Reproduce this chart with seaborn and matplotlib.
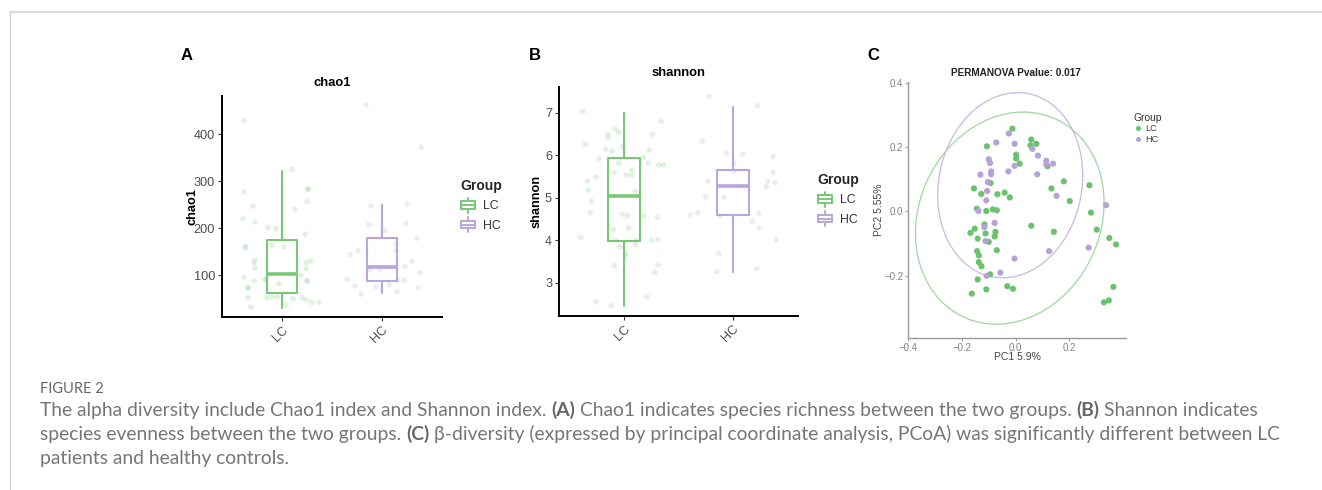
import numpy as np
import pandas as pd
import matplotlib
matplotlib.use("Agg")
import matplotlib.pyplot as plt
import seaborn as sns
from matplotlib.legend_handler import HandlerBase
from matplotlib.patches import Rectangle, Patch
from matplotlib.lines import Line2D

# ---------------- data ----------------
groups = ["LC", "HC"]

# Panel A: chao1 (values and horizontal jitter offsets)
lc_chao1 = [428, 277, 247, 220, 213, 161, 159, 95, 132, 126, 115, 74, 88, 72, 52, 32, 201, 199,
            164, 160, 92, 89, 82, 52, 54, 54, 36, 325, 240, 284, 282, 257, 187, 130, 126, 114,
            89, 87, 50, 52, 48, 42, 42, 100]
lc_chao1_jit = [-0.38, -0.38, -0.29, -0.39, -0.27, -0.37, -0.36, -0.38, -0.27, -0.28, -0.27, -0.34,
                -0.28, -0.34, -0.34, -0.31, -0.14, -0.06, -0.10, 0.02, -0.17, -0.16, -0.03, -0.15,
                -0.10, -0.05, 0.04, 0.10, 0.13, 0.26, 0.26, 0.25, 0.23, 0.29, 0.24, 0.24, 0.25,
                0.25, 0.11, 0.20, 0.24, 0.30, 0.37, 0.19]
hc_chao1 = [462, 372, 247, 251, 208, 210, 194, 179, 152, 144, 152, 167, 130, 119, 112, 112, 91,
            77, 75, 89, 105, 73, 65, 60, 79, 89]
hc_chao1_jit = [-0.16, 0.39, -0.11, 0.25, -0.13, 0.24, 0.03, 0.35, -0.24, -0.32, 0.14, 0.14, 0.30,
                0.23, -0.12, -0.02, -0.35, -0.27, -0.06, 0.22, 0.38, 0.36, 0.15, -0.21, 0.07, 0.16]
# box statistics (whisker low, Q1, median, Q3, whisker high)
chao1_box = {"LC": [30, 62, 102, 175, 322], "HC": [62, 88, 118, 178, 250]}

# Panel B: shannon
lc_shan = [7.02, 6.25, 6.49, 6.41, 6.61, 6.53, 6.14, 6.10, 6.20, 5.91, 5.39, 5.48, 5.18, 4.91,
           4.65, 4.07, 5.59, 5.81, 5.53, 5.65, 5.53, 5.16, 4.61, 4.58, 4.28, 4.25, 4.00, 3.85,
           3.69, 3.63, 3.40, 4.00, 3.90, 2.55, 2.46, 2.67, 3.25, 3.42, 4.00, 4.02, 4.54, 4.58,
           5.81, 6.12, 6.48, 6.80, 5.77, 5.77, 5.95]
lc_shan_jit = [-0.38, -0.36, -0.15, -0.15, -0.08, -0.05, -0.17, -0.11, -0.01, -0.23, -0.34, -0.26,
               -0.33, -0.30, -0.31, -0.40, -0.09, -0.05, 0.02, 0.07, 0.07, 0.10, -0.02, 0.03, 0.04,
               -0.10, -0.08, -0.04, 0.01, 0.01, -0.09, 0.11, 0.10, -0.26, -0.12, 0.21, 0.28, 0.31,
               0.25, 0.31, 0.31, 0.18, 0.22, 0.23, 0.26, 0.34, 0.32, 0.36, 0.18]
hc_shan = [7.38, 7.16, 6.33, 6.04, 6.02, 5.81, 5.39, 5.96, 5.38, 5.59, 5.35, 5.26, 5.02, 5.01,
           4.59, 4.65, 4.57, 4.44, 4.63, 4.29, 4.02, 3.69, 3.26, 3.33, 5.63]
hc_shan_jit = [-0.22, 0.23, -0.28, -0.06, 0.09, 0.01, -0.23, 0.37, 0.32, 0.37, 0.39, 0.31, -0.25,
               -0.08, -0.39, -0.32, -0.12, 0.18, 0.24, 0.24, 0.40, -0.13, -0.15, 0.22, 0.01]
shan_box = {"LC": [2.46, 3.99, 5.04, 5.93, 7.00], "HC": [3.26, 4.59, 5.28, 5.65, 7.14]}

# Panel C: PCoA
lc_pc1 = [-0.012, 0.058, 0.077, 0.055, -0.107, 0.002, 0.002, 0.015, 0.118, 0.179, 0.274, -0.155,
          -0.093, 0.133, -0.128, -0.068, -0.041, -0.022, 0.201, -0.144, -0.109, -0.085, -0.070,
          0.280, 0.058, -0.116, -0.152, -0.168, -0.112, -0.075, -0.078, 0.142, 0.301, -0.141,
          -0.100, 0.348, 0.373, -0.143, -0.070, -0.137, -0.137, -0.127, -0.095, -0.141, -0.031,
          -0.010, -0.109, -0.163, 0.363, 0.346, 0.328]
lc_pc2 = [0.257, 0.223, 0.210, 0.205, 0.202, 0.176, 0.164, 0.148, 0.140, 0.093, 0.081, 0.071,
          0.088, 0.071, 0.054, 0.053, 0.058, 0.043, 0.032, 0.008, 0.001, 0.006, 0.003, -0.004,
          -0.045, -0.041, -0.054, -0.067, -0.069, -0.064, -0.078, -0.064, -0.057, -0.085, -0.095,
          -0.083, -0.103, -0.124, -0.121, -0.137, -0.158, -0.171, -0.196, -0.212, -0.233, -0.241,
          -0.243, -0.256, -0.235, -0.277, -0.283]
hc_pc1 = [-0.025, -0.072, -0.004, 0.062, 0.083, -0.100, -0.095, -0.091, -0.091, -0.131, -0.027,
          -0.004, 0.114, 0.114, 0.139, 0.080, -0.103, -0.106, -0.109, 0.152, -0.138, -0.078,
          -0.116, -0.112, 0.336, 0.271, 0.124, -0.004, -0.057, -0.108]
hc_pc2 = [0.242, 0.214, 0.210, 0.194, 0.173, 0.162, 0.150, 0.124, 0.115, 0.114, 0.124, 0.141,
          0.157, 0.146, 0.148, 0.115, 0.091, 0.063, 0.034, 0.048, 0.001, -0.036, -0.049, -0.093,
          0.019, -0.113, -0.124, -0.147, -0.191, -0.201]

# ---------------- style ----------------
sns.set_style("white")
plt.rcParams["font.family"] = ["Liberation Sans", "DejaVu Sans"]
CAPFONT = ["Lato", "DejaVu Sans"]

LC_COL = "#78c878"
HC_COL = "#b9a6da"
LC_PT = "#6cc26c"
HC_PT = "#b7a2d8"
PAL = {"LC": LC_COL, "HC": HC_COL}

W, H = 1322, 490
fig = plt.figure(figsize=(W / 100, H / 100), dpi=100)


def fig_rect(l, t, r, b):
    return [l / W, 1 - b / H, (r - l) / W, (b - t) / H]


def fx(px):
    return px / W


def fy(py):
    return 1 - py / H


class BoxKey(HandlerBase):
    def create_artists(self, legend, orig, xd, yd, w, h, fs, trans):
        c = orig.get_edgecolor()
        x0, y0 = -xd, -yd
        bw = w * 0.85
        bx = x0 + (w - bw) / 2
        b0, b1 = y0 + h * 0.15, y0 + h * 0.85
        cx = x0 + w / 2
        arts = [
            Rectangle((bx, b0), bw, b1 - b0, fill=False, ec=c, lw=1.4, transform=trans),
            Line2D([cx, cx], [y0 - 1.5, b0], color=c, lw=1.4, transform=trans),
            Line2D([cx, cx], [b1, y0 + h + 1.5], color=c, lw=1.4, transform=trans),
            Line2D([bx, bx + bw], [y0 + h / 2] * 2, color=c, lw=1.4, transform=trans),
        ]
        return arts


def alpha_panel(rect, lc_v, lc_j, hc_v, hc_j, box, ylim, yticks, title, title_xy, ylab_x,
                leg_xy):
    ax = fig.add_axes(fig_rect(*rect))
    df = pd.DataFrame({
        "x": np.concatenate([0 + np.array(lc_j), 1 + np.array(hc_j)]),
        "y": np.concatenate([lc_v, hc_v]),
        "Group": ["LC"] * len(lc_v) + ["HC"] * len(hc_v),
    })
    sns.scatterplot(data=df, x="x", y="y", hue="Group", palette=PAL, alpha=0.22, s=16,
                    linewidth=0, legend=False, ax=ax, zorder=1)
    for i, g in enumerate(groups):
        lo, q1, med, q3, hi = box[g]
        st = [dict(whislo=lo, q1=q1, med=med, q3=q3, whishi=hi, fliers=[])]
        c = PAL[g]
        ax.bxp(st, positions=[i], widths=0.3, showfliers=False, showcaps=False,
               boxprops=dict(color=c, lw=1.5), whiskerprops=dict(color=c, lw=1.5),
               medianprops=dict(color=c, lw=2.6), manage_ticks=False, zorder=3)
    ax.set_xlim(-0.6, 1.6)
    ax.set_ylim(*ylim)
    ax.set_yticks(yticks)
    ax.set_xticks([0, 1])
    ax.set_xticklabels(groups, rotation=45, ha="right", va="top", rotation_mode="anchor")
    ax.set_xlabel("")
    ax.set_ylabel("")
    for s in ["top", "right"]:
        ax.spines[s].set_visible(False)
    for s in ["left", "bottom"]:
        ax.spines[s].set_color("black")
        ax.spines[s].set_linewidth(1.4)
    ax.tick_params(axis="both", direction="out", length=3, width=0.8, color="#333333",
                   labelsize=9.2, labelcolor="#4d4d4d", pad=2, left=True, bottom=True)
    fig.text(fx(title_xy[0]), fy(title_xy[1]), title, ha="center", va="center",
             fontsize=9.4, fontweight="bold", color="black")
    fig.text(fx(ylab_x), fy((rect[1] + rect[3]) / 2), title, ha="center", va="center",
             rotation=90, fontsize=9.2, fontweight="bold", color="black")
    handles = [Patch(facecolor="none", edgecolor=PAL[g]) for g in groups]
    leg = fig.legend(handles, groups, title="Group", handler_map={Patch: BoxKey()},
                     loc="upper left", bbox_to_anchor=(fx(leg_xy[0]), fy(leg_xy[1])),
                     frameon=False, fontsize=8.8, title_fontproperties={"weight": "bold", "size": 10},
                     alignment="left", handlelength=1.3, handleheight=1.0, labelspacing=0.55,
                     handletextpad=0.6, borderpad=0, borderaxespad=0)
    for t in leg.get_texts():
        t.set_color("#333333")
    return ax


axA = alpha_panel((222, 96, 442, 317), lc_chao1, lc_chao1_jit, hc_chao1, hc_chao1_jit,
                  chao1_box, (11, 481), [100, 200, 300, 400], "chao1", (332, 83), 192,
                  (460, 179))
axB = alpha_panel((559, 87, 798, 316), lc_shan, lc_shan_jit, hc_shan, hc_shan_jit,
                  shan_box, (2.22, 7.6), [3, 4, 5, 6, 7], "shannon", (678, 73), 537,
                  (817, 173))

# ---------------- Panel C ----------------
axC = fig.add_axes(fig_rect(908, 82, 1126, 338))
dfc = pd.DataFrame({
    "PC1": lc_pc1 + hc_pc1,
    "PC2": lc_pc2 + hc_pc2,
    "Group": ["LC"] * len(lc_pc1) + ["HC"] * len(hc_pc1),
})


def cov_trob(X, nu=5, maxit=25, tol=0.01):
    """Multivariate-t robust location / scatter (as MASS::cov.trob)."""
    n, p = X.shape
    wt = np.ones(n)
    loc = X.mean(axis=0)
    w = np.sqrt(wt)
    for _ in range(maxit):
        w0 = w
        Xc = X - loc
        _, d, vt = np.linalg.svd(np.sqrt(w / w.sum())[:, None] * Xc, full_matrices=False)
        wX = Xc @ vt.T @ np.diag(1 / d)
        Q = (wX ** 2).sum(axis=1)
        w = (wt * (nu + p)) / (nu + Q)
        loc = (w[:, None] * X).sum(axis=0) / w.sum()
        if np.all(np.abs(w - w0) < tol):
            break
    Xc = X - loc
    cov = (np.sqrt(w)[:, None] * Xc).T @ (np.sqrt(w)[:, None] * Xc) / wt.sum()
    return loc, cov


def ellipse_pts(x, y, level=0.95, n=240):
    X = np.column_stack([x, y]).astype(float)
    d = len(X) - 1
    fq = d / 2 * ((1 - level) ** (-2 / d) - 1)  # F(2, d) quantile, closed form
    r = np.sqrt(2 * fq)
    loc, cov = cov_trob(X)
    R = np.linalg.cholesky(cov).T  # upper triangular, like R's chol()
    t = np.linspace(0, 2 * np.pi, n)
    circ = np.column_stack([np.cos(t), np.sin(t)])
    p = loc + r * (circ @ R)
    return p[:, 0], p[:, 1]


ell_cols = {"LC": "#9fd89f", "HC": "#c6b9e4"}
for g, (gx, gy) in {"LC": (lc_pc1, lc_pc2), "HC": (hc_pc1, hc_pc2)}.items():
    ex, ey = ellipse_pts(gx, gy)
    axC.plot(ex, ey, color=ell_cols[g], lw=0.9, zorder=1)

sns.scatterplot(data=dfc, x="PC1", y="PC2", hue="Group", palette={"LC": LC_PT, "HC": HC_PT},
                s=20, linewidth=0, legend=False, ax=axC, zorder=3)
axC.set_xlim(-0.4, 0.41)
axC.set_ylim(-0.394, 0.402)
axC.set_xticks([-0.4, -0.2, 0.0, 0.2])
axC.set_xticklabels(["\u22120.4", "\u22120.2", "0.0", "0.2"])
axC.set_yticks([-0.2, 0.0, 0.2, 0.4])
axC.set_yticklabels(["\u22120.2", "0.0", "0.2", "0.4"])
axC.set_xlabel("")
axC.set_ylabel("")
for s in ["top", "right"]:
    axC.spines[s].set_visible(False)
for s in ["left", "bottom"]:
    axC.spines[s].set_color("#9a9a9a")
    axC.spines[s].set_linewidth(1.0)
axC.tick_params(axis="both", direction="out", length=2.5, width=0.8, color="#9a9a9a",
                labelsize=6.9, labelcolor="#808080", pad=1.0, left=True, bottom=True)
fig.text(fx(1016), fy(73), "PERMANOVA Pvalue: 0.017", ha="center", va="center",
         fontsize=7.2, fontweight="bold", color="#222222")
fig.text(fx(1017), fy(356.5), "PC1 5.9%", ha="center", va="center", fontsize=7.5,
         color="#444444")
fig.text(fx(879), fy(210), "PC2 5.55%", ha="center", va="center", rotation=90,
         fontsize=7.5, color="#444444")
legC = fig.legend([Line2D([], [], ls="", marker="o", ms=3.6, color=LC_PT, mew=0),
                   Line2D([], [], ls="", marker="o", ms=3.6, color=HC_PT, mew=0)],
                  groups, title="Group", loc="upper left",
                  bbox_to_anchor=(fx(1134), fy(113)), frameon=False, fontsize=6.6,
                  title_fontproperties={"size": 7.4}, alignment="left", handlelength=0.8,
                  handletextpad=0.4, labelspacing=0.15, borderpad=0, borderaxespad=0)
for t in legC.get_texts():
    t.set_color("#444444")
legC.get_title().set_color("#333333")

# panel letters
for lab, (px, py) in {"A": (187, 55), "B": (535, 55), "C": (873, 55)}.items():
    fig.text(fx(px), fy(py), lab, ha="center", va="center", fontsize=12, fontweight="bold",
             color="black")

# frame lines
fig.add_artist(Line2D([fx(10), 1.0], [fy(12), fy(12)], color="#dcdcdc", lw=1.6,
                      transform=fig.transFigure))
fig.add_artist(Line2D([fx(10), fx(10)], [0.0, fy(12)], color="#d2d2d2", lw=1.0,
                      transform=fig.transFigure))

# ---------------- caption ----------------
CAP_COL = "#767676"
CAP_W = "normal"
renderer = fig.canvas.get_renderer()


def text_w(s, size, bold=False):
    t = fig.text(0, 0, s, fontsize=size, fontweight="bold" if bold else CAP_W, family=CAPFONT)
    w = t.get_window_extent(renderer=renderer).width
    t.remove()
    return w


line1 = [("The alpha diversity include Chao1 index and Shannon index.", False), ("(A)", True),
         ("Chao1 indicates species richness between the two groups.", False), ("(B)", True),
         ("Shannon indicates", False)]
line2 = [("species evenness between the two groups.", False), ("(C)", True),
         ("\u03b2-diversity (expressed by principal coordinate analysis, PCoA) was significantly different between LC", False)]
line3 = [("patients and healthy controls.", False)]


def line_width(segs, size):
    sp = text_w("x x", size) - text_w("xx", size)
    return sum(text_w(s, size, b) for s, b in segs) + sp * (len(segs) - 1)


base = 11.0
cap_size = base * (1241.0 / line_width(line2, base))


def draw_line(segs, x_px, base_px, size):
    sp = text_w("x x", size) - text_w("xx", size)
    x = x_px
    for s, b in segs:
        t = fig.text(fx(x), fy(base_px), s, fontsize=size, fontweight="bold" if b else CAP_W,
                     family=CAPFONT, color=CAP_COL if not b else "#666666", ha="left",
                     va="baseline")
        x += t.get_window_extent(renderer=renderer).width + sp


fig_size = 8.0 * 63.0 / text_w("FIGURE 2", 8.0)
fig.text(fx(40), fy(393), "FIGURE 2", fontsize=fig_size, family=CAPFONT, color="#666666",
         ha="left", va="baseline")
draw_line(line1, 40, 416, cap_size)
draw_line(line2, 40, 440, cap_size)
draw_line(line3, 40, 464, cap_size)

fig.savefig("out.png", dpi=100)
